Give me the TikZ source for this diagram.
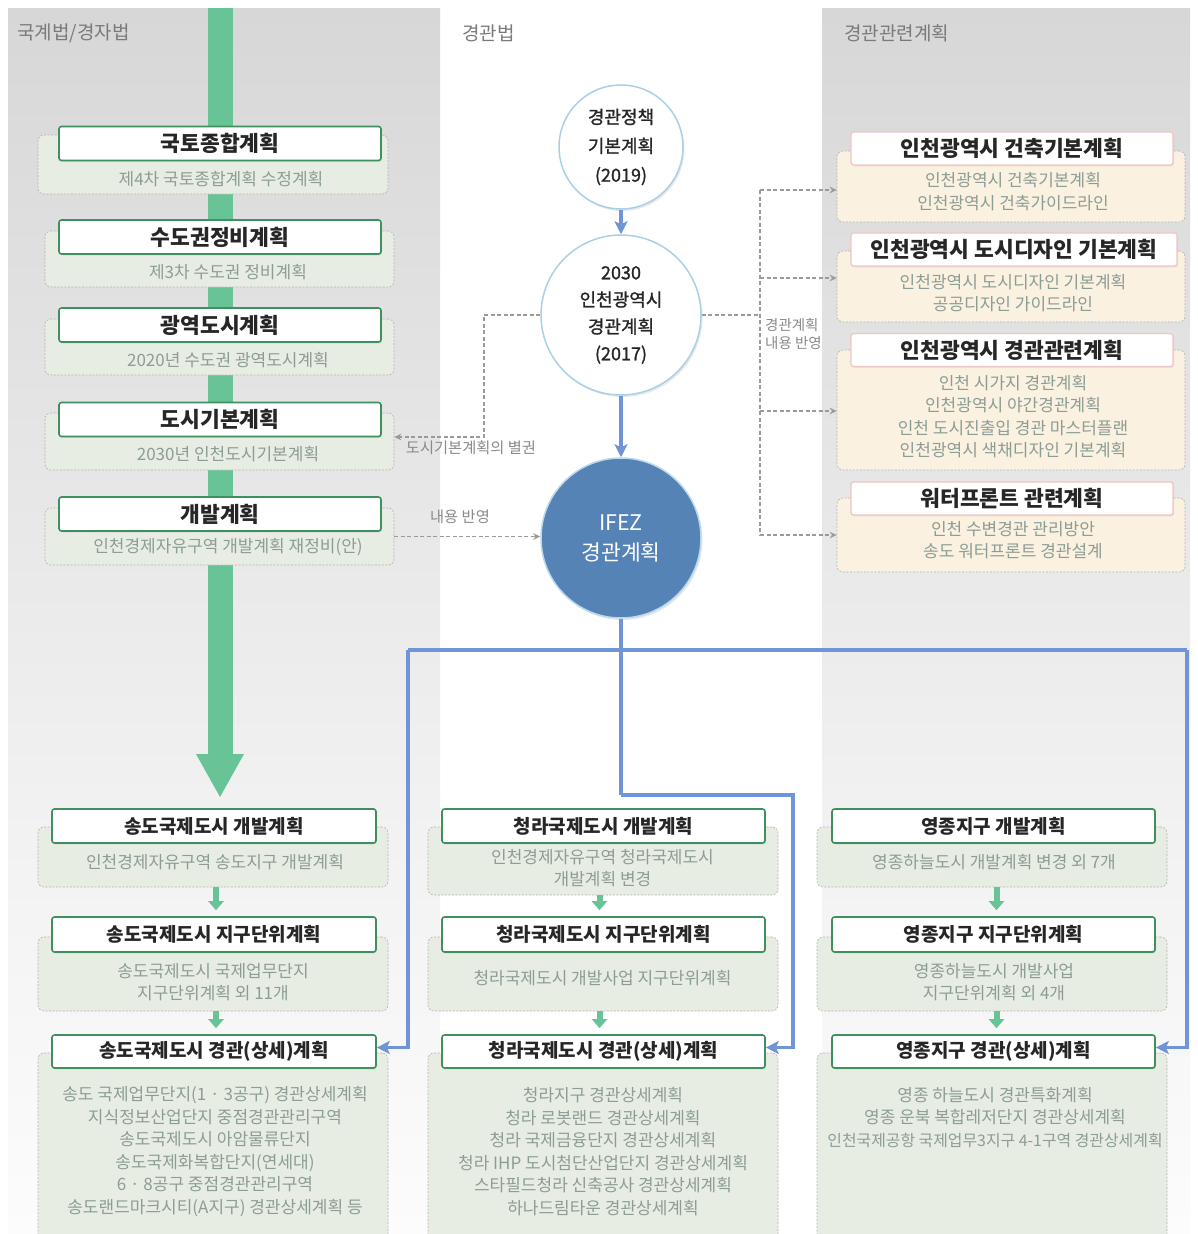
\documentclass[tikz,border=0pt]{standalone}
\usepackage{fontspec}
\setmainfont{Noto Sans CJK KR}
\newfontfamily\medkr[FakeBold=1.2]{Noto Sans CJK KR}
\usetikzlibrary{arrows.meta,shadows}
\definecolor{bandtop}{HTML}{D7D7D7}
\definecolor{bandmid}{HTML}{F1F1F1}
\definecolor{bandbot}{HTML}{FCFCFC}
\definecolor{gbig}{HTML}{68C496}
\definecolor{tgreen}{HTML}{3F8F5F}
\definecolor{rpink}{HTML}{F0C4C4}
\definecolor{tdark}{HTML}{262626}
\definecolor{bggreen}{HTML}{E8EDE3}
\definecolor{bgcream}{HTML}{FBF1E0}
\definecolor{bgline}{HTML}{B4B4B4}
\definecolor{subc}{HTML}{8C9D95}
\definecolor{hdr}{HTML}{7A7A7A}
\definecolor{bline}{HTML}{6F95D6}
\definecolor{cborder}{HTML}{AAD0E8}
\definecolor{ifez}{HTML}{5683B6}
\definecolor{dgray}{HTML}{9A9A9A}
\definecolor{lblc}{HTML}{8A8A8A}
\begin{document}
\begin{tikzpicture}[x=1pt,y=-1pt,
  tbox/.style={draw=tgreen, line width=1.6pt, fill=white, rounded corners=2.5pt, inner sep=0pt,
    font=\bfseries\fontsize{21.5}{25}\selectfont, text=tdark, minimum height=34pt,
    drop shadow={opacity=0.12, shadow xshift=1pt, shadow yshift=-1.5pt}},
  rbox/.style={tbox, draw=rpink, line width=1.2pt, minimum height=33pt},
  btbox/.style={tbox, font=\bfseries\fontsize{19}{23}\selectfont},
  gbg/.style={draw=bgline, dash pattern=on 2pt off 1.5pt, line width=0.6pt, fill=bggreen,
    rounded corners=6pt, inner sep=0pt},
  ybg/.style={gbg, fill=bgcream},
  subt/.style={text=subc, font=\fontsize{17}{22.6}\selectfont, align=center, inner sep=0pt},
  hdrt/.style={text=hdr, font=\fontsize{19}{22}\selectfont, anchor=west, inner sep=0pt},
  circ/.style={circle, draw=cborder, line width=1.5pt, fill=white, inner sep=0pt, align=center,
    text=tdark, drop shadow={opacity=0.18, shadow xshift=1.5pt, shadow yshift=-2pt}},
  barrow/.style={draw=bline, line width=3.3pt, -{Stealth[length=13pt,width=13pt,inset=3pt]}},
  bpath/.style={draw=bline, line width=3.3pt},
  darrow/.style={draw=dgray, line width=1.2pt, dash pattern=on 4pt off 2.5pt, -{Stealth[length=7pt,width=6.5pt]}},
  dpath/.style={draw=dgray, line width=1.2pt, dash pattern=on 4pt off 2.5pt},
  sgarrow/.style={draw=gbig, line width=6pt, -{Triangle[length=9pt,width=15pt]}, shorten >=6pt},
  lbl/.style={text=lblc, font=\fontsize{15.3}{18}\selectfont, inner sep=0pt}
]
\useasboundingbox (0,0) rectangle (1197,1234);
\fill[white] (0,0) rectangle (1197,1234);
\shade[top color=bandtop, bottom color=bandmid] (8,8) rectangle (440,800);
\shade[top color=bandmid, bottom color=bandbot] (8,799.5) rectangle (440,1234);
\shade[top color=bandtop, bottom color=bandmid] (822,8) rectangle (1190,800);
\shade[top color=bandmid, bottom color=bandbot] (822,799.5) rectangle (1190,1234);

% headers
\node[hdrt] (h1) at (17,33) {국계법/경자법};
\node[hdrt] (h2) at (462,33) {경관법};
\node[hdrt] (h3) at (844,33) {경관관련계획};

% big green arrow
\fill[gbig] (207.5,8) rectangle (232.5,756);
\fill[gbig] (196,754) -- (244,754) -- (220,797) -- cycle;

% left upper column
\node[gbg, minimum width=350pt, minimum height=59pt] (lb1) at (213,164.5) {};
\node[tbox, minimum width=322pt] (lt1) at (220,143.5) {국토종합계획};
\node[subt] (ls1) at (221,179) {제4차 국토종합계획 수정계획};

\node[gbg, minimum width=349pt, minimum height=56pt] (lb2) at (219.5,259) {};
\node[tbox, minimum width=322pt] (lt2) at (220,237) {수도권정비계획};
\node[subt] (ls2) at (228,272) {제3차 수도권 정비계획};

\node[gbg, minimum width=349pt, minimum height=56pt] (lb3) at (219.5,347) {};
\node[tbox, minimum width=322pt] (lt3) at (220,325) {광역도시계획};
\node[subt] (ls3) at (228,360) {2020년 수도권 광역도시계획};

\node[gbg, minimum width=349pt, minimum height=57pt] (lb4) at (219.5,441.5) {};
\node[tbox, minimum width=322pt] (lt4) at (220,419.5) {도시기본계획};
\node[subt] (ls4) at (228,454) {2030년 인천도시기본계획};

\node[gbg, minimum width=349pt, minimum height=57pt] (lb5) at (219.5,536.5) {};
\node[tbox, minimum width=322pt] (lt5) at (220,514) {개발계획};
\node[subt] (ls5) at (228,547) {인천경제자유구역 개발계획 재정비(안)};

% right column
\node[ybg, minimum width=348pt, minimum height=71pt] (rb1) at (1011,186.5) {};
\node[rbox, minimum width=322pt] (rt1) at (1012,148.5) {인천광역시 건축기본계획};
\node[subt] (rs1) at (1013,191.5) {인천광역시 건축기본계획\\인천광역시 건축가이드라인};

\node[ybg, minimum width=348pt, minimum height=71pt] (rb2) at (1011,286.5) {};
\node[rbox, minimum width=326pt] (rt2) at (1014,249.5) {인천광역시 도시디자인 기본계획};
\node[subt] (rs2) at (1013,293) {인천광역시 도시디자인 기본계획\\공공디자인 가이드라인};

\node[ybg, minimum width=348pt, minimum height=120pt] (rb3) at (1011,410) {};
\node[rbox, minimum width=322pt] (rt3) at (1012,350) {인천광역시 경관관련계획};
\node[subt] (rs3) at (1013,416.5) {인천 시가지 경관계획\\인천광역시 야간경관계획\\인천 도시진출입 경관 마스터플랜\\인천광역시 색채디자인 기본계획};

\node[ybg, minimum width=348pt, minimum height=74pt] (rb4) at (1011,535) {};
\node[rbox, minimum width=322pt] (rt4) at (1012,498.5) {워터프론트 관련계획};
\node[subt] (rs4) at (1013,540) {인천 수변경관 관리방안\\송도 워터프론트 경관설계};

% circles
\node[circ, minimum size=124pt, font=\medkr\fontsize{18}{29}\selectfont] (c1) at (621,147) {경관정책\\기본계획\\(2019)};
\node[circ, minimum size=160pt, font=\medkr\fontsize{18}{27}\selectfont] (c2) at (621,315) {2030\\인천광역시\\경관계획\\(2017)};
\node[circ, minimum size=160pt, fill=ifez, draw=cborder!80!white, text=white, font=\fontsize{21.5}{30}\selectfont] (c3) at (621,538) {IFEZ\\경관계획};

\draw[barrow] (c1) -- (c2);
\draw[barrow] (c2) -- (c3);

% dashed connectors
\coordinate (dl) at (484,315);
\draw[darrow] (c2.west) -- (dl) |- ([yshift=4.5pt]lb4.east);
\node[lbl] (l1) at (471,448) {도시기본계획의 별권};
\draw[darrow] (lb5.east) -- (lb5.east -| c3.west);
\node[lbl] (l2) at (460,517) {내용 반영};

\coordinate (dr) at (760,315);
\coordinate (v1) at (760,190);
\coordinate (v2) at (760,278);
\coordinate (v3) at (760,411);
\coordinate (v4) at (760,535);
\draw[dpath] (c2.east) -- (dr);
\draw[dpath] (v1) -- (v4);
\draw[darrow] (v1) -- (v1 -| rb1.west);
\draw[darrow] (v2) -- (v2 -| rb2.west);
\draw[darrow] (v3) -- (v3 -| rb3.west);
\draw[darrow] (v4) -- (v4 -| rb4.west);
\node[lbl, anchor=west, align=left, font=\fontsize{14.5}{18}\selectfont] (l3) at (765,334) {경관계획\\내용 반영};

% bottom columns
\node[gbg, minimum width=350pt, minimum height=60pt] (ab1) at (213,857) {};
\node[btbox, minimum width=324pt] (at1) at (214,826) {송도국제도시 개발계획};
\node[subt] (as1) at (215,862) {인천경제자유구역 송도지구 개발계획};
\node[gbg, minimum width=350pt, minimum height=74pt] (ab2) at (213,974) {};
\node[btbox, minimum width=324pt, minimum height=35pt] (at2) at (214,934.5) {송도국제도시 지구단위계획};
\node[subt] (as2) at (213,982) {송도국제도시 국제업무단지\\지구단위계획 외 11개};
\node[gbg, minimum width=350pt, minimum height=194pt] (ab3) at (213,1150) {};
\node[btbox, minimum width=324pt, minimum height=33pt] (at3) at (214,1051.5) {송도국제도시 경관(상세)계획};
\node[subt] (as3) at (215,1151.5) {송도 국제업무단지(1 · 3공구) 경관상세계획\\지식정보산업단지 중점경관관리구역\\송도국제도시 아암물류단지\\송도국제화복합단지(연세대)\\6 · 8공구 중점경관관리구역\\송도랜드마크시티(A지구) 경관상세계획 등};

\node[gbg, minimum width=350pt, minimum height=68pt] (bb1) at (603,861) {};
\node[btbox, minimum width=323pt] (bt1) at (603.5,826) {청라국제도시 개발계획};
\node[subt] (bs1) at (602.5,868) {인천경제자유구역 청라국제도시\\개발계획 변경};
\node[gbg, minimum width=350pt, minimum height=74pt] (bb2) at (603,974) {};
\node[btbox, minimum width=323pt, minimum height=35pt] (bt2) at (603.5,934.5) {청라국제도시 지구단위계획};
\node[subt] (bs2) at (602.5,978) {청라국제도시 개발사업 지구단위계획};
\node[gbg, minimum width=350pt, minimum height=194pt] (bb3) at (603,1150) {};
\node[btbox, minimum width=323pt, minimum height=33pt] (bt3) at (603.5,1051.5) {청라국제도시 경관(상세)계획};
\node[subt] (bs3) at (603,1151.5) {청라지구 경관상세계획\\청라 로봇랜드 경관상세계획\\청라 국제금융단지 경관상세계획\\청라 IHP 도시첨단산업단지 경관상세계획\\스타필드청라 신축공사 경관상세계획\\하나드림타운 경관상세계획};

\node[gbg, minimum width=350pt, minimum height=60pt] (cb1) at (992,857) {};
\node[btbox, minimum width=323pt] (ct1) at (993.5,826) {영종지구 개발계획};
\node[subt] (cs1) at (994,862) {영종하늘도시 개발계획 변경 외 7개};
\node[gbg, minimum width=350pt, minimum height=74pt] (cb2) at (992,974) {};
\node[btbox, minimum width=323pt, minimum height=35pt] (ct2) at (993.5,934.5) {영종지구 지구단위계획};
\node[subt] (cs2) at (994,982) {영종하늘도시 개발사업\\지구단위계획 외 4개};
\node[gbg, minimum width=350pt, minimum height=194pt] (cb3) at (992,1150) {};
\node[btbox, minimum width=323pt, minimum height=33pt] (ct3) at (993.5,1051.5) {영종지구 경관(상세)계획};
\node[subt] (cs3) at (995,1117.3) {영종 하늘도시 경관특화계획\\영종 운북 복합레저단지 경관상세계획\\{\fontsize{15.9}{22.6}\selectfont 인천국제공항 국제업무3지구 4-1구역 경관상세계획}};

% small green arrows
\draw[sgarrow] ([xshift=2pt]at2.north |- ab1.south) -- ([xshift=2pt]at2.north);
\draw[sgarrow] ([xshift=2pt]at3.north |- ab2.south) -- ([xshift=2pt]at3.north);
\draw[sgarrow] ([xshift=-4pt]bt2.north |- bb1.south) -- ([xshift=-4pt]bt2.north);
\draw[sgarrow] ([xshift=-4pt]bt3.north |- bb2.south) -- ([xshift=-4pt]bt3.north);
\draw[sgarrow] ([xshift=3pt]ct2.north |- cb1.south) -- ([xshift=3pt]ct2.north);
\draw[sgarrow] ([xshift=3pt]ct3.north |- cb2.south) -- ([xshift=3pt]ct3.north);

% blue distribution lines
\coordinate (j1) at (621,650);
\coordinate (j2) at (621,795);
\coordinate (jl) at (408,650);
\coordinate (jr) at (1187,650);
\coordinate (jm) at (793,795);
\draw[bpath] (c3.south) -- (j2);
\draw[bpath] (jl) -- (jr);
\draw[barrow] (jl) |- ([yshift=4pt]at3.east);
\draw[barrow] (j2) -- (jm) |- ([yshift=4pt]bt3.east);
\draw[barrow] (jr) |- ([yshift=4pt]ct3.east);
\end{tikzpicture}
\end{document}
